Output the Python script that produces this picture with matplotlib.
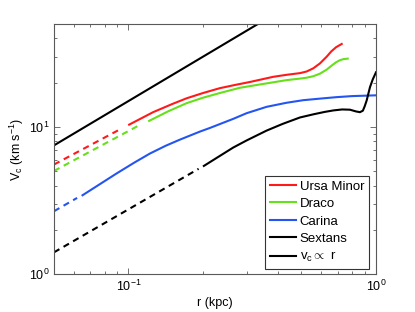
import numpy as np
import matplotlib
matplotlib.use('Agg')
import matplotlib.pyplot as plt

plt.rcParams['font.family'] = ['Liberation Sans', 'DejaVu Sans']
plt.rcParams['mathtext.fontset'] = 'custom'
plt.rcParams['mathtext.rm'] = 'Liberation Sans'
plt.rcParams['mathtext.it'] = 'Liberation Sans'

# Ursa Minor (kpc, km/s) - dashed part is the inner extrapolation
umi_r_dash = [0.05, 0.092]
umi_v_dash = [5.56, 9.6]
umi_r = [0.1006, 0.1257, 0.15, 0.1716, 0.2, 0.2339, 0.27, 0.3094, 0.3843, 0.4353, 0.4929,
         0.5245, 0.5578, 0.5936, 0.632, 0.66, 0.69, 0.727]
umi_v = [10.37, 12.6, 14.3, 15.65, 17.0, 18.34, 19.3, 20.2, 21.9, 22.6, 23.2,
         23.8, 25.0, 27.0, 30.0, 32.6, 34.8, 36.6]

# Draco
dra_r_dash = [0.05, 0.112]
dra_v_dash = [5.03, 10.4]
dra_r = [0.1212, 0.145, 0.1716, 0.2, 0.2339, 0.2818, 0.319, 0.3843, 0.4353, 0.4929, 0.5245,
         0.5578, 0.5936, 0.632, 0.66, 0.69, 0.715, 0.74, 0.7683]
dra_v = [11.0, 12.8, 14.5, 15.8, 17.0, 18.45, 19.1, 20.1, 20.8, 21.3, 21.6,
         22.1, 23.0, 24.5, 26.0, 27.5, 28.4, 28.9, 29.1]

# Carina
car_r_dash = [0.05, 0.062]
car_v_dash = [2.68, 3.3]
car_r = [0.0652, 0.0894, 0.105, 0.122, 0.1412, 0.1612, 0.1942, 0.2133, 0.2649, 0.30, 0.3614,
         0.4353, 0.5082, 0.6, 0.6935, 0.8, 1.0]
car_v = [3.44, 4.83, 5.7, 6.6, 7.45, 8.2, 9.3, 9.85, 11.35, 12.4, 13.7,
         14.6, 15.2, 15.6, 15.94, 16.2, 16.4]

# Sextans
sex_r_dash = [0.05, 0.192]
sex_v_dash = [1.41, 5.2]
sex_r = [0.2016, 0.23, 0.2649, 0.30, 0.3614, 0.42, 0.4929, 0.56, 0.62, 0.672, 0.73, 0.785,
         0.83, 0.8614, 0.885, 0.90, 0.917, 0.9456, 0.97, 1.0]
sex_v = [5.44, 6.25, 7.25, 8.1, 9.45, 10.5, 11.6, 12.2, 12.65, 12.95, 13.15, 13.1,
         12.75, 12.6, 12.9, 13.8, 15.14, 18.63, 21.0, 23.5]

# v_c proportional to r
lin_r = [0.05, 1.0]
lin_v = [7.5, 150.0]

fig = plt.figure(figsize=(4.15, 3.12), dpi=100)
ax = fig.add_axes([0.1301, 0.1208, 0.7759, 0.8023])

red = '#ff1a1a'
green = '#66e01a'
blue = '#2455f0'
lw = 1.5
dash = (3, 2.3)

ax.plot(umi_r_dash, umi_v_dash, color=red, lw=lw, dashes=dash)
ax.plot(dra_r_dash, dra_v_dash, color=green, lw=lw, dashes=dash)
ax.plot(car_r_dash, car_v_dash, color=blue, lw=lw, dashes=dash)
ax.plot(sex_r_dash, sex_v_dash, color='k', lw=lw, dashes=dash)

ax.plot(umi_r, umi_v, color=red, lw=lw, label='Ursa Minor')
ax.plot(dra_r, dra_v, color=green, lw=lw, label='Draco')
ax.plot(car_r, car_v, color=blue, lw=lw, label='Carina')
ax.plot(sex_r, sex_v, color='k', lw=lw, label='Sextans')
ax.plot(lin_r, lin_v, color='k', lw=lw, label=r'v$_{\rm c}$$\propto$ r')

ax.set_xscale('log')
ax.set_yscale('log')
ax.set_xlim(0.05, 1)
ax.set_ylim(1, 50)

ax.set_xlabel('r (kpc)', fontsize=9, labelpad=2)
ax.set_ylabel(r'V$_{\rm c}$ (km s$^{-1}$)', fontsize=9, labelpad=2)

for s in ax.spines.values():
    s.set_color('0.35')
    s.set_linewidth(0.8)
ax.tick_params(which='both', direction='in', top=True, right=True, colors='0.35', labelcolor='k', labelsize=9)
ax.tick_params(which='major', length=4, width=0.6)
ax.tick_params(which='minor', length=2.5, width=0.6)

leg = ax.legend(loc='lower right', bbox_to_anchor=(0.978, 0.021), fontsize=9.5, frameon=True,
                fancybox=False, edgecolor='k', handlelength=2.0, handletextpad=0.25,
                labelspacing=0.4, borderpad=0.35, borderaxespad=0)
leg.get_frame().set_linewidth(0.8)

fig.savefig('out.png', dpi=100)
